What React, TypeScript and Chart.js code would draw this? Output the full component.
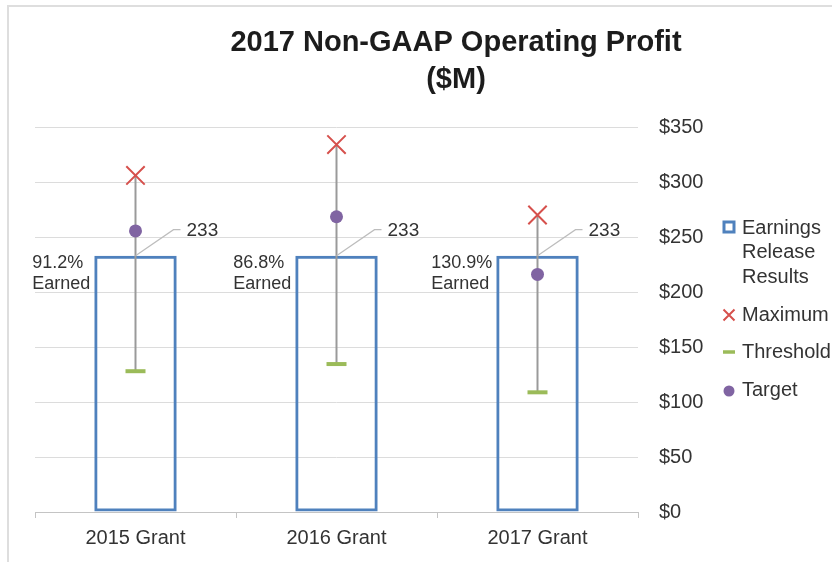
import React, { useEffect, useRef } from 'react';
import { Chart, registerables } from 'chart.js';

Chart.register(...registerables);

const categories = ['2015 Grant', '2016 Grant', '2017 Grant'];
const earnings = [233, 233, 233];
const maximum = [306, 334, 270];
const threshold = [128, 134.5, 108.8];
const target = [255.5, 268.4, 216];
const earnedPct = ['91.2%', '86.8%', '130.9%'];
const titleLines = ['2017 Non-GAAP Operating Profit', '($M)'];
const legendLabels = [['Earnings', 'Release', 'Results'], ['Maximum'], ['Threshold'], ['Target']];

const FONT = '"Liberation Sans", Arial, Helvetica, sans-serif';
const BLUE = '#4f81bd';
const RED = '#d6504c';
const GREEN = '#9bbb59';
const PURPLE = '#8064a2';
const TEXT = '#333333';

const framePlugin = {
  id: 'framePlugin',
  beforeDraw(chart: any) {
    const ctx = chart.ctx;
    ctx.save();
    ctx.fillStyle = '#ffffff';
    ctx.fillRect(0, 0, chart.width, chart.height);
    ctx.strokeStyle = '#dedede';
    ctx.lineWidth = 2;
    ctx.beginPath();
    ctx.moveTo(8, chart.height);
    ctx.lineTo(8, 6);
    ctx.lineTo(chart.width, 6);
    ctx.stroke();
    ctx.restore();
  },
  afterDraw(chart: any) {
    const ctx = chart.ctx;
    ctx.save();
    // title
    ctx.fillStyle = '#1c1c1c';
    ctx.font = `bold 29px ${FONT}`;
    ctx.textAlign = 'center';
    ctx.textBaseline = 'middle';
    ctx.fillText(titleLines[0], 456, 43);
    ctx.fillText(titleLines[1], 456, 80);

    // legend
    const lx = 729;
    const tx = 742;
    ctx.font = `20px ${FONT}`;
    ctx.textAlign = 'left';
    ctx.fillStyle = TEXT;
    // Earnings Release Results
    ctx.strokeStyle = BLUE;
    ctx.lineWidth = 3;
    ctx.strokeRect(lx - 5, 222, 10, 10);
    legendLabels[0].forEach((t, i) => ctx.fillText(t, tx, 228 + i * 24.5));
    // Maximum
    ctx.strokeStyle = RED;
    ctx.lineWidth = 2;
    ctx.beginPath();
    ctx.moveTo(lx - 5.5, 309.5);
    ctx.lineTo(lx + 5.5, 320.5);
    ctx.moveTo(lx + 5.5, 309.5);
    ctx.lineTo(lx - 5.5, 320.5);
    ctx.stroke();
    ctx.fillText(legendLabels[1][0], tx, 315);
    // Threshold
    ctx.strokeStyle = GREEN;
    ctx.lineWidth = 3.5;
    ctx.beginPath();
    ctx.moveTo(lx - 6, 352);
    ctx.lineTo(lx + 6, 352);
    ctx.stroke();
    ctx.fillText(legendLabels[2][0], tx, 352);
    // Target
    ctx.fillStyle = PURPLE;
    ctx.beginPath();
    ctx.arc(lx, 391, 5.5, 0, Math.PI * 2);
    ctx.fill();
    ctx.fillStyle = TEXT;
    ctx.fillText(legendLabels[3][0], tx, 390);
    ctx.restore();
  },
};

const whiskerPlugin = {
  id: 'whiskerPlugin',
  afterDatasetDraw(chart: any, args: any) {
    if (args.index !== 0) return;
    const ctx = chart.ctx;
    const xs = chart.scales.x;
    const ys = chart.scales.y;
    ctx.save();
    ctx.strokeStyle = '#9a9a9a';
    ctx.lineWidth = 2;
    categories.forEach((_, i) => {
      const x = xs.getPixelForValue(i);
      ctx.beginPath();
      ctx.moveTo(x, ys.getPixelForValue(threshold[i]));
      ctx.lineTo(x, ys.getPixelForValue(maximum[i]));
      ctx.stroke();
    });
    ctx.restore();
  },
};

const labelPlugin = {
  id: 'labelPlugin',
  afterDatasetsDraw(chart: any) {
    const ctx = chart.ctx;
    const meta = chart.getDatasetMeta(0);
    ctx.save();
    meta.data.forEach((el: any, i: number) => {
      const x = el.x;
      const y = el.y;
      // leader line
      ctx.strokeStyle = '#bdbdbd';
      ctx.lineWidth = 1.2;
      ctx.beginPath();
      ctx.moveTo(x, y);
      ctx.lineTo(x + 38, y - 26);
      ctx.lineTo(x + 45, y - 26);
      ctx.stroke();
      ctx.fillStyle = TEXT;
      ctx.font = `19px ${FONT}`;
      ctx.textAlign = 'left';
      ctx.textBaseline = 'middle';
      ctx.fillText(String(earnings[i]), x + 51, y - 25);
      // earned label
      ctx.font = `18px ${FONT}`;
      const lines = [earnedPct[i], 'Earned'];
      const w = Math.max(...lines.map((l) => ctx.measureText(l).width));
      const left = x - el.width / 2 - 4 - w;
      ctx.fillText(lines[0], left, y + 7);
      ctx.fillText(lines[1], left, y + 28);
    });
    ctx.restore();
  },
};

export default function App() {
  const ref = useRef<HTMLCanvasElement | null>(null);
  useEffect(() => {
    if (!ref.current) return;
    const chart = new Chart(ref.current, {
      type: 'bar',
      data: {
        labels: categories,
        datasets: [
          {
            type: 'bar',
            label: 'Earnings Release Results',
            data: earnings,
            backgroundColor: 'rgba(0,0,0,0)',
            borderColor: BLUE,
            borderWidth: 3,
            borderSkipped: false,
            barPercentage: 0.41,
            categoryPercentage: 1,
            order: 10,
          },
          {
            type: 'line',
            label: 'Maximum',
            data: maximum,
            showLine: false,
            pointStyle: 'crossRot',
            pointRadius: 13,
            pointBorderColor: RED,
            pointBackgroundColor: RED,
            pointBorderWidth: 2,
            order: 1,
          },
          {
            type: 'line',
            label: 'Threshold',
            data: threshold,
            showLine: false,
            pointStyle: 'line',
            pointRadius: 10,
            pointBorderColor: GREEN,
            pointBorderWidth: 4,
            order: 2,
          },
          {
            type: 'line',
            label: 'Target',
            data: target,
            showLine: false,
            pointStyle: 'circle',
            pointRadius: 6.5,
            pointBorderWidth: 0,
            pointBorderColor: PURPLE,
            pointBackgroundColor: PURPLE,
            order: 0,
          },
        ],
      },
      options: {
        animation: false,
        responsive: false,
        layout: { padding: { top: 127, left: 35, right: 0, bottom: 0 } },
        plugins: {
          legend: { display: false },
          title: { display: false },
          tooltip: { enabled: false },
        },
        scales: {
          x: {
            grid: {
              offset: true,
              drawOnChartArea: false,
              drawTicks: true,
              tickLength: 6,
              color: '#c4c4c4',
            },
            border: { display: true, color: '#c4c4c4', width: 1 },
            ticks: { font: { family: FONT, size: 20 }, color: TEXT, padding: 8 },
            afterFit: (s: any) => {
              s.height = 50;
            },
          },
          y: {
            position: 'right',
            min: 0,
            max: 350,
            grid: { color: '#dcdcdc', lineWidth: 1, drawTicks: false },
            border: { display: false },
            ticks: {
              stepSize: 50,
              padding: 21,
              font: { family: FONT, size: 20 },
              color: TEXT,
              callback: (v: any) => '$' + v,
            },
            afterFit: (s: any) => {
              s.width = 194;
            },
          },
        },
      },
      plugins: [framePlugin, whiskerPlugin, labelPlugin],
    });
    return () => chart.destroy();
  }, []);
  return (
    <div style={{ position: 'absolute', left: 0, top: 0, width: 832, height: 562 }}>
      <canvas ref={ref} width={832} height={562} style={{ width: 832, height: 562, display: 'block' }} />
    </div>
  );
}
